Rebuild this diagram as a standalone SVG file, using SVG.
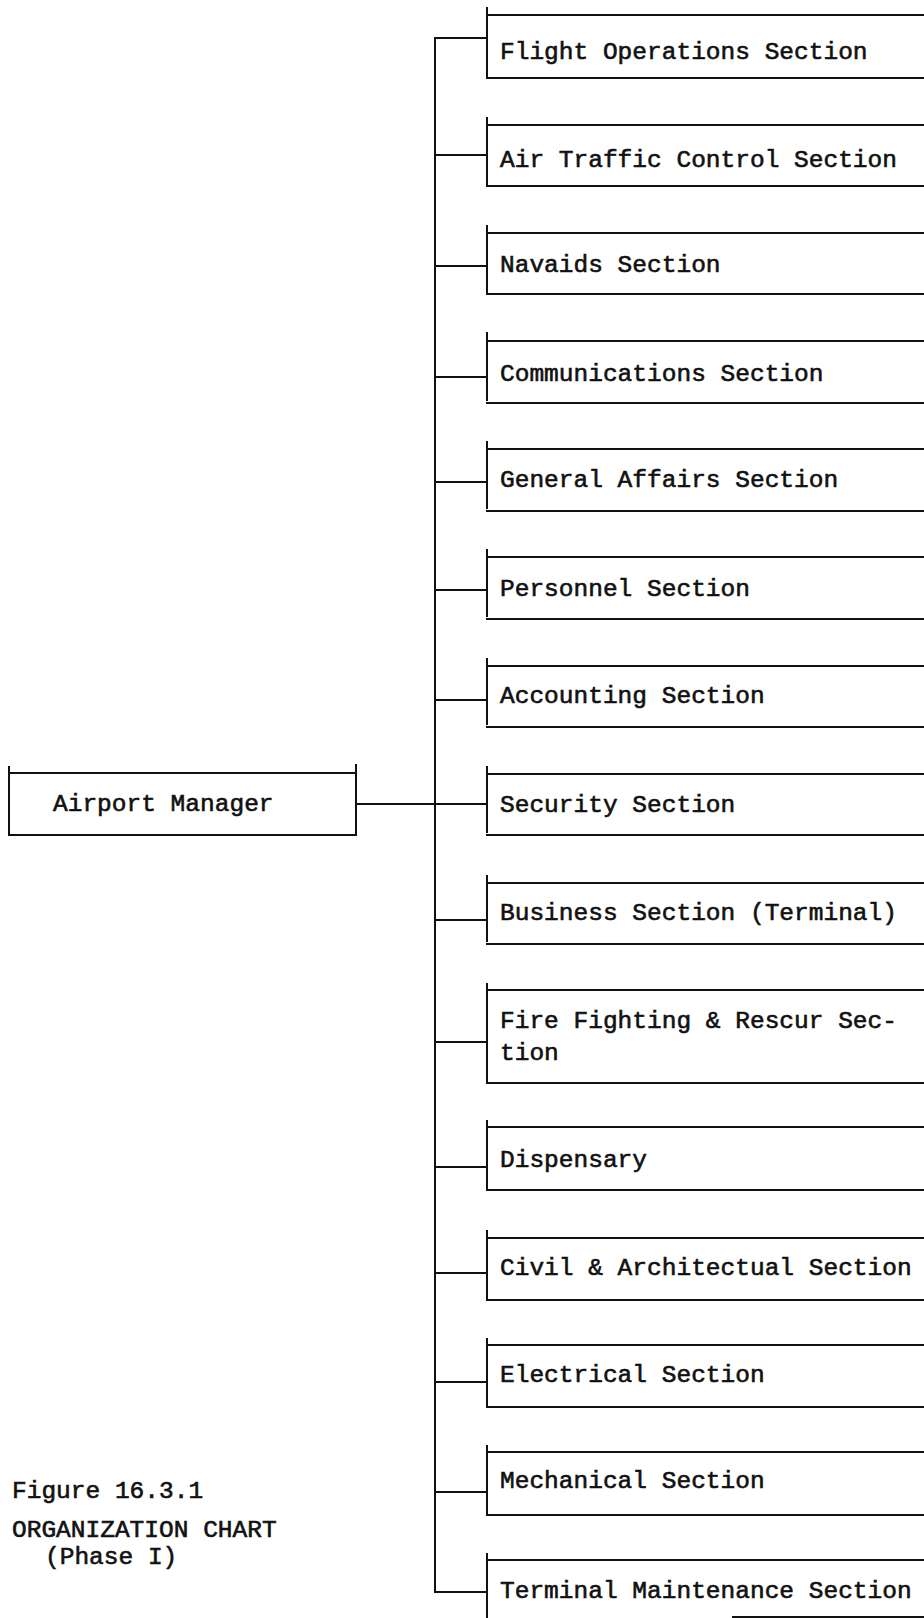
<svg xmlns="http://www.w3.org/2000/svg" width="924" height="1618" viewBox="0 0 924 1618">
<style>
.ln{stroke:#111;stroke-width:2;fill:none;stroke-linecap:square}
.t{font-family:"Liberation Mono","Courier New",monospace;font-size:24.5px;fill:#111;stroke:#111;stroke-width:0.6}
</style>
<rect x="0" y="0" width="924" height="1618" fill="#fff"/>
<g id="connectors" class="ln">
<path d="M435,38 V1592 H487"/>
<path d="M435,38 H487"/>
<path d="M435,155 H487"/>
<path d="M435,266 H487"/>
<path d="M435,377 H487"/>
<path d="M435,482 H487"/>
<path d="M435,590 H487"/>
<path d="M435,700 H487"/>
<path d="M356,804 H487"/>
<path d="M435,920 H487"/>
<path d="M435,1042 H487"/>
<path d="M435,1167 H487"/>
<path d="M435,1273 H487"/>
<path d="M435,1382 H487"/>
<path d="M435,1492 H487"/>
</g>
<g id="manager">
<path class="ln" d="M9,767 V835 H356 V765 M9,773 H356"/>
<text class="t" x="53" y="811">Airport Manager</text>
</g>
<g id="flight-ops">
<path class="ln" d="M487,8 V76 M487,15 H924 M487,78 H924"/>
<text class="t" x="500" y="59">Flight Operations Section</text>
</g>
<g id="atc">
<path class="ln" d="M487,118 V184 M487,125 H924 M487,186 H924"/>
<text class="t" x="500" y="167">Air Traffic Control Section</text>
</g>
<g id="navaids">
<path class="ln" d="M487,226 V292 M487,233 H924 M487,294 H924"/>
<text class="t" x="500" y="272">Navaids Section</text>
</g>
<g id="communications">
<path class="ln" d="M487,333 V400 M487,341 H924 M487,403 H924"/>
<text class="t" x="500" y="381">Communications Section</text>
</g>
<g id="general-affairs">
<path class="ln" d="M487,442 V508 M487,449 H924 M487,511 H924"/>
<text class="t" x="500" y="487">General Affairs Section</text>
</g>
<g id="personnel">
<path class="ln" d="M487,550 V616 M487,557 H924 M487,619 H924"/>
<text class="t" x="500" y="596">Personnel Section</text>
</g>
<g id="accounting">
<path class="ln" d="M487,659 V724 M487,666 H924 M487,727 H924"/>
<text class="t" x="500" y="703">Accounting Section</text>
</g>
<g id="security">
<path class="ln" d="M487,767 V832 M487,774 H924 M487,835 H924"/>
<text class="t" x="500" y="812">Security Section</text>
</g>
<g id="business">
<path class="ln" d="M487,876 V941 M487,883 H924 M487,944 H924"/>
<text class="t" x="500" y="920">Business Section (Terminal)</text>
</g>
<g id="fire-fighting">
<path class="ln" d="M487,984 V1081 M487,990 H924 M487,1083 H924"/>
<text class="t" x="500" y="1028">Fire Fighting &amp; Rescur Sec-</text>
<text class="t" x="500" y="1060">tion</text>
</g>
<g id="dispensary">
<path class="ln" d="M487,1121 V1188 M487,1127 H924 M487,1190 H924"/>
<text class="t" x="500" y="1167">Dispensary</text>
</g>
<g id="civil">
<path class="ln" d="M487,1231 V1298 M487,1238 H924 M487,1300 H924"/>
<text class="t" x="500" y="1275">Civil &amp; Architectual Section</text>
</g>
<g id="electrical">
<path class="ln" d="M487,1339 V1406 M487,1345 H924 M487,1407 H924"/>
<text class="t" x="500" y="1382">Electrical Section</text>
</g>
<g id="mechanical">
<path class="ln" d="M487,1446 V1514 M487,1452 H924 M487,1515 H924"/>
<text class="t" x="500" y="1488">Mechanical Section</text>
</g>
<g id="terminal-maintenance">
<path class="ln" d="M487,1554 V1618 M487,1560 H924 M733,1617 H924"/>
<text class="t" x="500" y="1598">Terminal Maintenance Section</text>
</g>
<g id="caption">
<text class="t" x="12" y="1498">Figure 16.3.1</text>
<text class="t" x="12" y="1537">ORGANIZATION CHART</text>
<text class="t" x="45" y="1564">(Phase I)</text>
</g>
</svg>
